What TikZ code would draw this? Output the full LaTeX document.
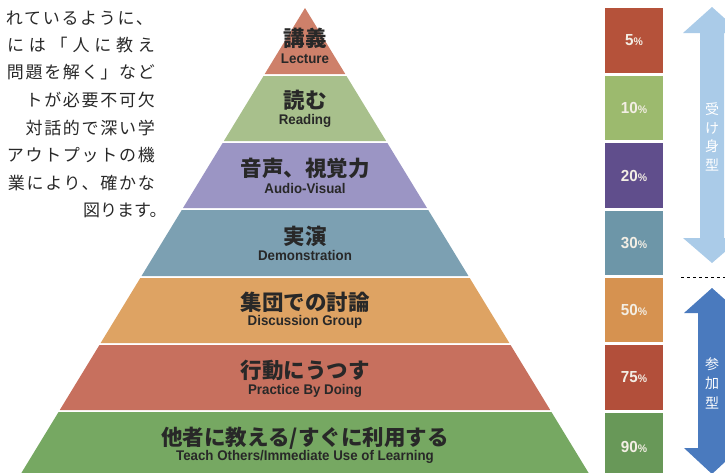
\documentclass[tikz,border=0pt]{standalone}
\usepackage{fontspec}
\setmainfont{Liberation Sans}
\newfontfamily\jp{Noto Sans CJK JP}
\newfontfamily\jpwide[LetterSpace=10]{Noto Sans CJK JP}
\newfontfamily\jpwider[LetterSpace=28]{Noto Sans CJK JP}
\newfontfamily\en[FakeStretch=0.95]{Liberation Sans}
\usepackage{tikz}

\definecolor{lecture}{RGB}{206,128,106}
\definecolor{reading}{RGB}{168,192,140}
\definecolor{audio}{RGB}{155,149,196}
\definecolor{demo}{RGB}{124,160,178}
\definecolor{discuss}{RGB}{222,163,99}
\definecolor{practice}{RGB}{199,112,94}
\definecolor{teach}{RGB}{118,168,98}
\definecolor{rlecture}{RGB}{181,82,58}
\definecolor{rreading}{RGB}{156,186,110}
\definecolor{raudio}{RGB}{96,78,140}
\definecolor{rdemo}{RGB}{109,150,168}
\definecolor{rdiscuss}{RGB}{214,146,80}
\definecolor{rpractice}{RGB}{178,79,58}
\definecolor{rteach}{RGB}{104,152,88}
\definecolor{pcttext}{RGB}{243,238,228}
\definecolor{passive}{RGB}{170,203,232}
\definecolor{active}{RGB}{74,122,190}
\definecolor{ink}{RGB}{40,40,40}

\tikzset{
	jplabel/.style={font=\jp\bfseries\fontsize{21.5}{23}\selectfont, text=ink, inner sep=0pt},
	enlabel/.style={font=\en\bfseries\fontsize{14}{15}\selectfont, text=ink, inner sep=0pt},
	pct/.style={font=\en\bfseries\fontsize{16}{17}\selectfont, text=pcttext, inner sep=0pt},
	para/.style={font=\jpwide\fontsize{17}{20}\selectfont, text=ink, inner sep=0pt, anchor=east},
	vtext/.style={font=\jp\fontsize{14}{18.5}\selectfont, align=center, inner sep=0pt}
}

\begin{document}
\begin{tikzpicture}[x=1pt,y=-1pt]

	\useasboundingbox (0,0) rectangle (725,472);
	\clip (0,0) rectangle (725,472);

	% pyramid
	\foreach \ya/\yb/\col in {8/74/lecture, 76/141/reading, 143/208/audio, 210/276/demo, 278/343/discuss, 345/410/practice, 412/480/teach}
	{
		\fill[\col] ({305-0.61*(\ya-8)},\ya) -- ({305+0.61*(\ya-8)},\ya) -- ({305+0.61*(\yb-8)},\yb) -- ({305-0.61*(\yb-8)},\yb) -- cycle;
	}

	\node[jplabel] (lec) at (305,38) {講義};
	\node[enlabel] (lecen) at (305,59) {Lecture};
	\node[jplabel] (read) at (305,100) {読む};
	\node[enlabel] (readen) at (305,121) {Reading};
	\node[jplabel] (av) at (305,168) {音声、視覚力};
	\node[enlabel] (aven) at (305,188) {Audio-Visual};
	\node[jplabel] (demo) at (305,236) {実演};
	\node[enlabel] (demoen) at (305,255) {Demonstration};
	\node[jplabel] (disc) at (305,302) {集団での討論};
	\node[enlabel] (discen) at (305,322) {Discussion Group};
	\node[jplabel] (prac) at (305,370) {行動にうつす};
	\node[enlabel] (pracen) at (305,391) {Practice By Doing};
	\node[jplabel] (teach) at (305,438) {他者に教える/すぐに利用する};
	\node[enlabel] (teachen) at (305,457) {Teach Others/Immediate Use of Learning};

	% retention column
	\foreach \ya/\yb/\col/\val in {8/73/rlecture/5, 76/140/rreading/10, 143/208/raudio/20, 211/275/rdemo/30, 278/342/rdiscuss/50, 345/410/rpractice/75, 413/480/rteach/90}
	{
		\fill[\col] (605,\ya) rectangle (663,\yb);
		\node[pct] (p\val) at (634,{(\ya+\yb)/2}) {\val{\fontsize{11}{12}\selectfont\%}};
	}

	% arrows
	\fill[passive] (712,7) -- (741,33) -- (724,33) -- (724,238) -- (741,238) -- (712,263) -- (683,238) -- (700,238) -- (700,33) -- (683,33) -- cycle;
	\fill[active] (712,288) -- (740,313) -- (726,313) -- (726,448) -- (740,448) -- (712,474) -- (684,448) -- (698,448) -- (698,313) -- (684,313) -- cycle;
	\draw[dashed, line width=1pt] (681,277) -- (725,277);

	\node[vtext, text=white] (ukemi) at (712,137) {受\\け\\身\\型};
	\node[vtext, text=white, font=\jp\fontsize{14}{19.5}\selectfont] (sanka) at (712,383) {参\\加\\型};

	% text
	\node[para] (t1) at (153,18) {れているように、};
	\node[para, font=\jpwider\fontsize{17}{20}\selectfont] (t2) at (155,45) {には「人に教え};
	\node[para] (t3) at (155,72) {問題を解く」など};
	\node[para] (t4) at (155,100) {トが必要不可欠};
	\node[para] (t5) at (155,128) {対話的で深い学};
	\node[para] (t6) at (155,155) {アウトプットの機};
	\node[para] (t7) at (155,183) {業により、確かな};
	\node[para, anchor=west, font=\jp\fontsize{17}{20}\selectfont] (t8) at (83,210) {図ります。};

\end{tikzpicture}
\end{document}
